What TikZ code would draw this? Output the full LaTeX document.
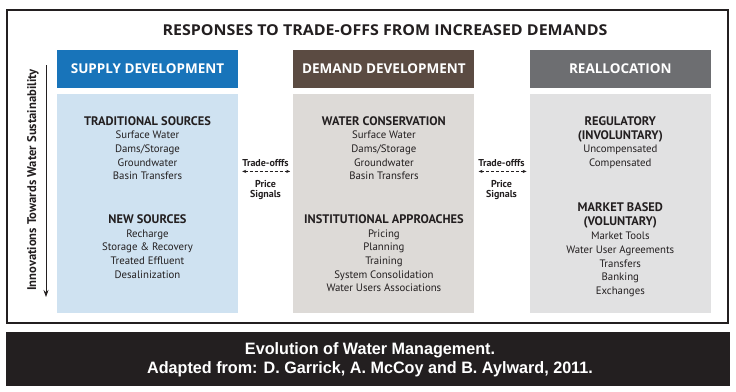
\documentclass[tikz,border=0pt]{standalone}
\usepackage{fontspec}
\setmainfont{PT Sans}
\newfontfamily\headfont{Open Sans}
\newfontfamily\titlefont[FakeStretch=1.065]{Open Sans}
\newfontfamily\capfont[FakeStretch=0.98]{Liberation Sans}
\usetikzlibrary{positioning,arrows.meta}
\definecolor{supplyblue}{HTML}{1874BA}
\definecolor{supplylight}{HTML}{CFE2F1}
\definecolor{demandbrown}{HTML}{5B4B42}
\definecolor{demandlight}{HTML}{DDDAD7}
\definecolor{reallocgrey}{HTML}{6D6E71}
\definecolor{realloclight}{HTML}{E1E1E2}
\definecolor{inkdark}{HTML}{231F20}
\newcommand{\colhead}[1]{{\bfseries\fontsize{12.4}{13.6}\selectfont #1}}
\tikzset{x=1pt, y=1pt,
        node distance=55pt, % gap between the three columns
        header/.style={ % coloured bar on top of each column
            minimum width=181pt, minimum height=38pt, inner sep=0pt,
            text=white, font=\headfont\bfseries\fontsize{13.5}{16}\selectfont},
        colbox/.style={ % light panel holding the column text
            minimum width=181pt, minimum height=219pt, inner sep=0pt},
        coltext/.style={
            align=center, inner sep=0pt, anchor=north, text=inkdark,
            font=\fontsize{10.8}{13.6}\selectfont},
        tradelabel/.style={
            align=center, inner sep=0pt, text=inkdark,
            font=\bfseries\fontsize{10}{10.5}\selectfont},
        tradeoff/.style={ % dashed two-way arrow between columns
            densely dashed, line width=0.6pt, inkdark,
            {Stealth[length=4pt,width=3.2pt]}-{Stealth[length=4pt,width=3.2pt]}}
        }

\begin{document}
\begin{tikzpicture}
    \useasboundingbox (0,0) rectangle (736,-391);
    \draw[inkdark, line width=1.8pt] (7,-10) rectangle (728,-323);

    \node[text=inkdark, font=\titlefont\bfseries\fontsize{15}{17}\selectfont] (title) at (385,-30)
        {RESPONSES TO TRADE-OFFS FROM INCREASED DEMANDS};

    % column headers
    \node[header, fill=supplyblue] (supply) at (147.5,-69) {SUPPLY DEVELOPMENT};
    \node[header, fill=demandbrown] (demand) [right=of supply] {DEMAND DEVELOPMENT};
    \node[header, fill=reallocgrey] (realloc) [right=of demand] {REALLOCATION};

    % column panels
    \node[colbox, fill=supplylight] (supplybox) [below=6pt of supply] {};
    \node[colbox, fill=demandlight] (demandbox) [below=6pt of demand] {};
    \node[colbox, fill=realloclight] (reallocbox) [below=6pt of realloc] {};

    \node[coltext] (supplytext) [below=22pt of supplybox.north] {
        \colhead{TRADITIONAL SOURCES}\\ Surface Water\\ Dams/Storage\\ Groundwater\\ Basin Transfers\\[30.5pt]
        \colhead{NEW SOURCES}\\ Recharge\\ Storage \& Recovery\\ Treated Effluent\\ Desalinization};
    \node[coltext] (demandtext) [below=22pt of demandbox.north] {
        \colhead{WATER CONSERVATION}\\ Surface Water\\ Dams/Storage\\ Groundwater\\ Basin Transfers\\[30.5pt]
        \colhead{INSTITUTIONAL APPROACHES}\\ Pricing\\ Planning\\ Training\\ System Consolidation\\ Water Users Associations};
    \node[coltext, font=\fontsize{10.8}{13.8}\selectfont] (realloctext) [below=22pt of reallocbox.north] {
        \colhead{REGULATORY}\\ \colhead{(INVOLUNTARY)}\\ Uncompensated\\ Compensated\\[31.5pt]
        \colhead{MARKET BASED}\\ \colhead{(VOLUNTARY)}\\ Market Tools\\ Water User Agreements\\ Transfers\\ Banking\\ Exchanges};

    % trade-offs between the columns
    \node[tradelabel] (trade1) at (265.5,-163) {Trade-offfs};
    \node[tradelabel] (price1) at (265.5,-190) {Price\\Signals};
    \node[tradelabel] (trade2) at (501.5,-163) {Trade-offfs};
    \node[tradelabel] (price2) at (501.5,-190) {Price\\Signals};
    \draw[tradeoff, shorten <=4pt, shorten >=3pt]
        ([yshift=32.5pt]supplybox.east) -- ([yshift=32.5pt]demandbox.west);
    \draw[tradeoff, shorten <=4pt, shorten >=3pt]
        ([yshift=32.5pt]demandbox.east) -- ([yshift=32.5pt]reallocbox.west);

    % innovation axis
    \coordinate (innovtop) at (46,-65);
    \coordinate (innovbottom) at (46,-297);
    \draw[inkdark, line width=0.8pt, -{Stealth[length=7pt,width=5pt]}] (innovtop) -- (innovbottom);
    \node[rotate=90, text=inkdark, font=\bfseries\fontsize{12.6}{14}\selectfont] (innovlabel) at (33,-180)
        {Innovations Towards Water Sustainability};

    % caption bar
    \node[fill=inkdark, minimum width=724pt, minimum height=54pt, inner sep=0pt] (captionbar) at (368,-359) {};
    \node[align=center, text=white, font=\capfont\bfseries\fontsize{16.5}{18.5}\selectfont] (caption) at (370,-359.5)
        {Evolution of Water Management.\\Adapted from: D. Garrick, A. McCoy and B. Aylward, 2011.};
\end{tikzpicture}
\end{document}
